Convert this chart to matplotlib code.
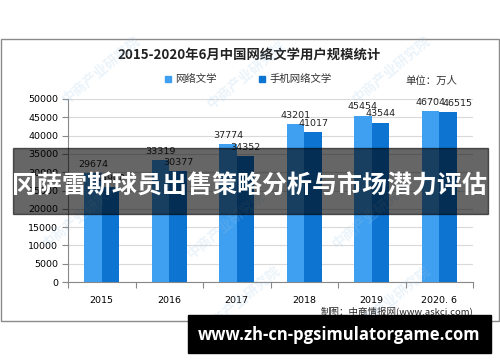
import matplotlib
matplotlib.use("Agg")
import matplotlib.pyplot as plt
from matplotlib.patches import Rectangle
import numpy as np

plt.rcParams['font.family'] = ['Noto Sans CJK SC', 'DejaVu Sans']

# ── data ────────────────────────────────────────────────────────────────────
years = ["2015", "2016", "2017", "2018", "2019", "2020. 6"]
web_lit = [29674, 33319, 37774, 43201, 45454, 46704]          # 网络文学
mobile_lit = [25908, 30377, 34352, 41017, 43544, 46515]       # 手机网络文学
series_names = ["网络文学", "手机网络文学"]
y_ticks = list(range(0, 50001, 5000))

title = "2015-2020年6月中国网络文学用户规模统计"
unit_text = "单位：万人"
source_text = "制图：中商情报网(www.askci.com)"
banner_text = "冈萨雷斯球员出售策略分析与市场潜力评估"
url_text = "www.zh-cn-pgsimulatorgame.com"
watermark = "中商产业研究院"

LIGHT = "#3f9ff0"
DARK = "#0e74d2"
W, H = 500, 362

fig = plt.figure(figsize=(W / 100, H / 100), dpi=100)


def fx(px):
    return px / W


def fy(py):
    return 1 - py / H


# outer chart frame
fig.patches.append(Rectangle((fx(1), fy(321)), fx(498), (321 - 39) / H,
                             transform=fig.transFigure, fill=False,
                             edgecolor="#8a8a8a", lw=1.0, zorder=0))

ax = fig.add_axes([fx(68), fy(282), fx(473 - 68), (282 - 99) / H])
x = np.arange(len(years))
bw = 0.26
b1 = ax.bar(x - bw / 2, web_lit, bw, color=LIGHT, zorder=3)
b2 = ax.bar(x + bw / 2, mobile_lit, bw, color=DARK, zorder=3)

for k, (bars, vals) in enumerate(((b1, web_lit), (b2, mobile_lit))):
    for i, (r, v) in enumerate(zip(bars, vals)):
        # last pair sits almost level, so the second label is nudged right
        dx = 7 if (k == 1 and i == len(vals) - 1) else 0
        ax.annotate(str(v), (r.get_x() + r.get_width() / 2, v),
                    xytext=(dx, 3), textcoords="offset points",
                    ha="center", va="bottom", fontsize=6.8,
                    family="DejaVu Sans", color="#222222")

ax.set_xlim(-0.5, len(years) - 0.5)
ax.set_ylim(0, 50000)
ax.set_yticks(y_ticks)
ax.set_yticklabels([str(t) for t in y_ticks], fontsize=6.8, family="DejaVu Sans")
ax.yaxis.grid(True, color="#d9d9d9", lw=0.8, zorder=0)
ax.set_axisbelow(True)

# categories between tick marks, Excel style
ax.set_xticks(np.arange(-0.5, len(years)), minor=False)
ax.set_xticklabels([])
ax.set_xticks(x, minor=True)
ax.set_xticklabels(years, minor=True, fontsize=6.8, family="DejaVu Sans")
ax.tick_params(axis="x", which="minor", length=0, pad=10)
ax.tick_params(axis="x", which="major", length=4, color="#888888")
ax.tick_params(axis="y", length=4, color="#888888", pad=3)

for side in ("top", "right"):
    ax.spines[side].set_visible(False)
for side in ("left", "bottom"):
    ax.spines[side].set_color("#888888")

fig.text(fx(249), fy(55), title, ha="center", va="center",
         fontsize=9.6, fontweight="bold", color="#222222")

# legend
for lx, col, name in ((168, LIGHT, series_names[0]), (262, DARK, series_names[1])):
    fig.patches.append(Rectangle((fx(lx - 3), fy(82)), fx(6), 6 / H,
                                 transform=fig.transFigure, color=col))
    fig.text(fx(lx + 7), fy(79), name, ha="left", va="center", fontsize=7.5,
             color="#333333")
fig.text(fx(405), fy(81), unit_text, ha="left", va="center", fontsize=7.5,
         color="#333333")
fig.text(fx(473), fy(311), source_text, ha="right", va="center", fontsize=6.8,
         color="#222222")

# faint watermarks
for wx, wy in ((60, 70), (205, 75), (350, 70), (40, 215), (185, 225),
               (330, 215), (200, 300), (350, 300)):
    fig.text(fx(wx), fy(wy), watermark, rotation=40, fontsize=10,
             fontweight="bold", color="#9cc8ea", alpha=0.2,
             ha="left", va="center")

# overlay banners
fig.patches.append(Rectangle((fx(13), fy(214)), fx(488 - 13), (214 - 148) / H,
                             transform=fig.transFigure, color="black",
                             alpha=0.6, zorder=10))
fig.text(fx(250), fy(186), banner_text, ha="center", va="center",
         fontsize=18, fontweight="bold", color="white", zorder=11)

fig.patches.append(Rectangle((fx(188), fy(353)), fx(491 - 188), (353 - 315) / H,
                             transform=fig.transFigure, color="black", zorder=10))
fig.text(fx(339), fy(335), url_text, ha="center", va="center",
         fontsize=12, fontweight="bold", color="white", family="Open Sans",
         zorder=11)

fig.savefig("out.png", dpi=100)
